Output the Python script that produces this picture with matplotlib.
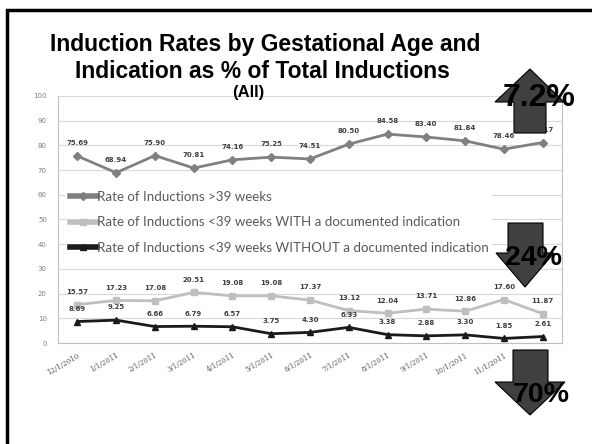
import matplotlib
matplotlib.use("Agg")
import matplotlib.pyplot as plt
from matplotlib.patches import Polygon, Rectangle

months = ["12/1/2010", "1/1/2011", "2/1/2011", "3/1/2011", "4/1/2011", "5/1/2011",
          "6/1/2011", "7/1/2011", "8/1/2011", "9/1/2011", "10/1/2011", "11/1/2011",
          "12/1/2011"]
over39 = [75.69, 68.94, 75.90, 70.81, 74.16, 75.25, 74.51, 80.50, 84.58, 83.40,
          81.84, 78.46, 81.17]
with_ind = [15.57, 17.23, 17.08, 20.51, 19.08, 19.08, 17.37, 13.12, 12.04, 13.71,
            12.86, 17.60, 11.87]
without_ind = [8.69, 9.25, 6.66, 6.79, 6.57, 3.75, 4.30, 6.33, 3.38, 2.88, 3.30,
               1.85, 2.61]
series_names = ["Rate of Inductions >39 weeks",
                "Rate of Inductions <39 weeks WITH a documented indication",
                "Rate of Inductions <39 weeks WITHOUT a documented indication"]
arrow_labels = ["7.2%", "24%", "70%"]

W, H = 592, 444
fig = plt.figure(figsize=(W / 100, H / 100), dpi=100)
fig.patch.set_facecolor("white")

def fx(x):
    return x / W

def fy(y):
    return 1 - y / H

# slide border (left and top visible)
fig.add_artist(Rectangle((fx(7), fy(460)), fx(620), fy(10) - fy(460), fill=False,
                         lw=2.5, ec="black", transform=fig.transFigure))

ax = fig.add_axes([fx(58), fy(343), fx(562) - fx(58), fy(96) - fy(343)])
x = list(range(len(months)))
colors = ["#808080", "#bfbfbf", "#1a1a1a"]
markers = ["D", "s", "^"]
msz = [4, 5, 5]
data = [over39, with_ind, without_ind]
for vals, c, m, ms, name in zip(data, colors, markers, msz, series_names):
    ax.plot(x, vals, color=c, lw=2, marker=m, ms=ms, label=name, zorder=3)
    for xi, v in zip(x, vals):
        ax.annotate(f"{v:.2f}", (xi, v), xytext=(0, 7), textcoords="offset points",
                    ha="center", va="bottom", fontsize=5, fontweight="bold",
                    color="#404040", zorder=4)

ax.set_xlim(-0.5, len(months) - 0.5)
ax.set_ylim(0, 100)
ax.set_yticks(range(0, 101, 10))
ax.set_xticks(x)
ax.set_xticklabels(months, rotation=30, ha="right", rotation_mode="anchor",
                   fontsize=5, color="#595959", family="DejaVu Serif")
ax.tick_params(axis="y", labelsize=5, labelcolor="#7f7f7f", length=0, pad=8)
ax.tick_params(axis="x", length=0, pad=6)
ax.grid(axis="y", color="#d9d9d9", lw=0.8)
ax.set_axisbelow(True)
for s in ["left", "bottom", "right"]:
    ax.spines[s].set_color("#bfbfbf")
    ax.spines[s].set_linewidth(0.8)
ax.spines["top"].set_visible(False)

leg = ax.legend(loc="upper left", bbox_to_anchor=(fx(66), fy(187)),
                bbox_transform=fig.transFigure, frameon=True, fancybox=False,
                framealpha=1, edgecolor="none", facecolor="white",
                prop={"family": "Lato", "size": 9.6},
                labelcolor="#595959", handlelength=2.0, handletextpad=0.0,
                labelspacing=1.0, borderpad=0.3, borderaxespad=0)
for h in leg.legend_handles:
    h.set_linewidth(4)

# title
fig.text(fx(265), fy(44), "Induction Rates by Gestational Age and", ha="center",
         va="center", fontsize=16.5, fontweight="bold", family="Liberation Sans")
fig.text(fx(262), fy(72), "Indication as % of Total Inductions", ha="center",
         va="center", fontsize=16.5, fontweight="bold", family="Liberation Sans")
fig.text(fx(248), fy(93), "(All)", ha="center", va="center", fontsize=12,
         fontweight="bold", family="Liberation Sans")

def arrow(pts):
    fig.add_artist(Polygon([(fx(a), fy(b)) for a, b in pts], closed=True,
                           fc="#404040", ec="black", lw=0.8,
                           transform=fig.transFigure, zorder=10))

# up arrow
arrow([(514, 133), (514, 102), (495, 102), (530, 69), (564, 102), (546, 102), (546, 133)])
# down arrows
arrow([(508, 223), (543, 223), (543, 253), (554, 253), (525, 287), (496, 253), (508, 253)])
arrow([(513, 350), (548, 350), (548, 382), (565, 382), (530, 415), (495, 382), (513, 382)])

for (tx, ty), lab, fs in zip([(539, 98), (534, 258), (541, 395)], arrow_labels, [23, 20.5, 20.5]):
    t = fig.text(fx(tx), fy(ty), lab, ha="center", va="center", fontsize=fs,
                 fontweight="bold", family="Liberation Sans", color="black")
    t.set_zorder(11)

fig.savefig("out.png", dpi=100, facecolor="white")
